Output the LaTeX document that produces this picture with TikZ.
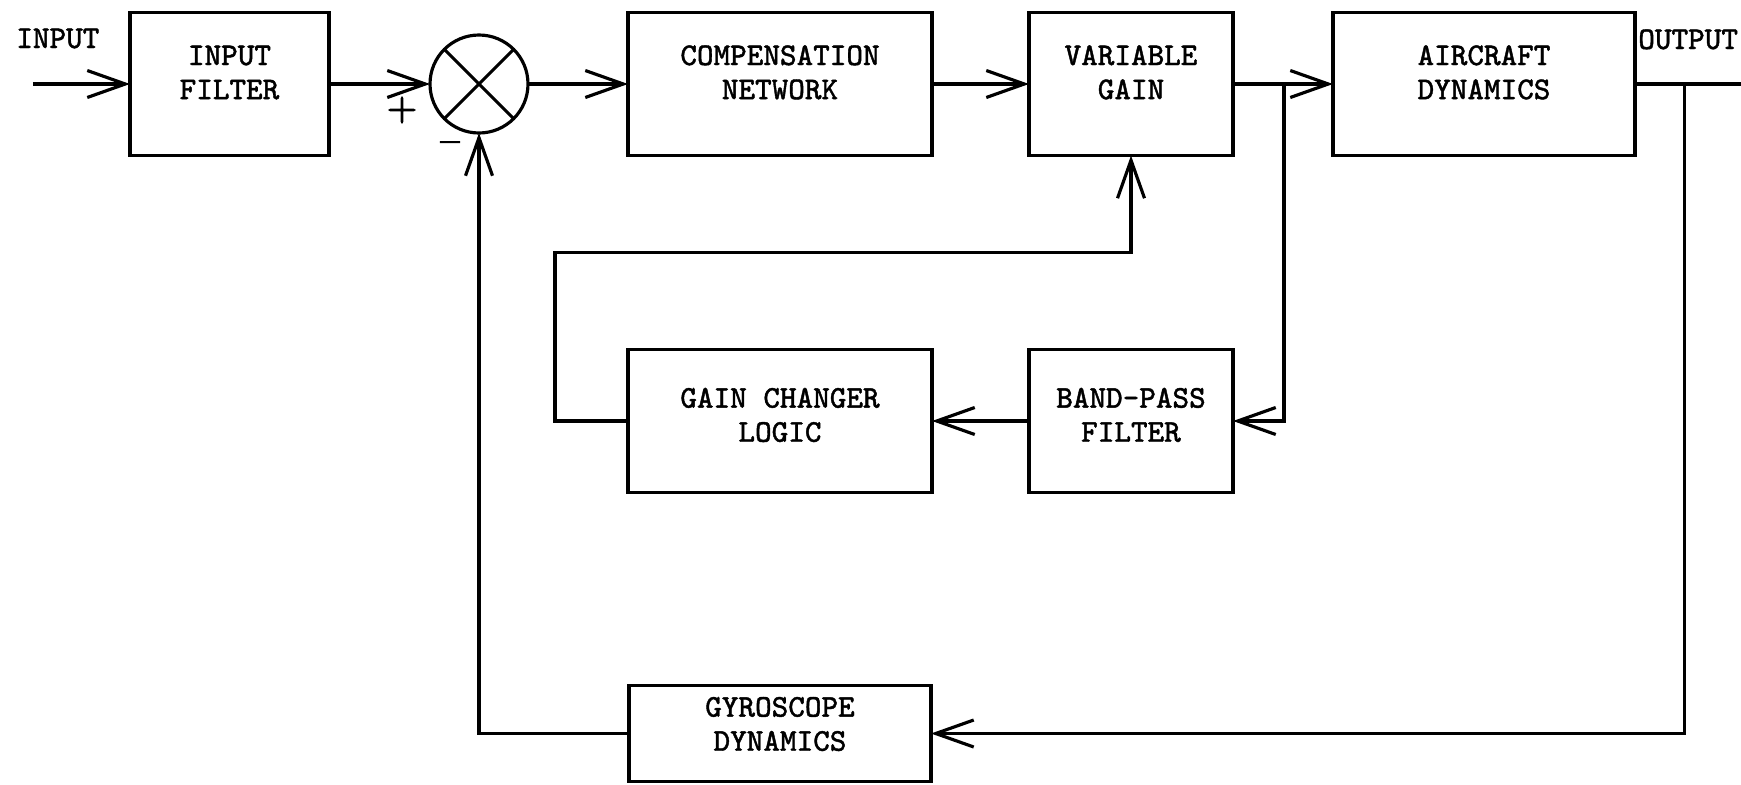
\documentclass[tikz,border=0pt]{standalone}
\usepackage{fontspec}
\setmonofont{Latin Modern Mono}[FakeBold=1.3]
\newfontfamily\signfont{Latin Modern Roman}[FakeBold=3]
\usetikzlibrary{arrows.meta, positioning, calc}

\tikzset{
  block/.style={rectangle, draw, line width=1.1pt, outer sep=0pt, align=center,
    minimum height=1.43cm, text height=8.6pt, text depth=0pt},
  lbl/.style={inner sep=0.5pt},
  sign/.style={inner sep=0pt, font=\fontsize{11}{11}\selectfont\signfont},
}

\begin{document}
\begin{tikzpicture}[>={Straight Barb[length=0.38cm, width=0.27cm]}, line width=0.9pt,
    font=\fontsize{9}{9.7}\selectfont\ttfamily]
  \useasboundingbox (0,0) rectangle (17.41,7.84);

  % forward path
  \node[block, minimum width=1.99cm] (filt) at (2.295,7.00) {INPUT\\FILTER};
  \node[circle, draw, minimum size=0.98cm, inner sep=0pt, outer sep=0pt, right=1.01cm of filt] (sum) {};
  \draw (sum.north west) -- (sum.south east) (sum.north east) -- (sum.south west);
  \node[block, minimum width=3.04cm, right=1.00cm of sum] (comp) {COMPENSATION\\NETWORK};
  \node[block, minimum width=2.04cm, right=0.97cm of comp] (gain) {VARIABLE\\GAIN};
  \node[block, minimum width=3.02cm, right=1.00cm of gain] (plant) {AIRCRAFT\\DYNAMICS};

  % gain changer loop
  \node[block, minimum width=3.04cm, text height=11.8pt, below=1.94cm of comp] (logic) {GAIN CHANGER\\LOGIC};
  \node[block, minimum width=2.04cm, text height=11.8pt, below=1.94cm of gain] (bpf) {BAND-PASS\\FILTER};

  % gyro feedback
  \node[block, minimum width=3.02cm, minimum height=0.96cm, text height=9.8pt, below=1.93cm of logic] (gyro) {GYROSCOPE\\DYNAMICS};

  \node[sign] (plus) at ($(sum)+(-0.77,-0.26)$) {+};
  \node[sign] (minus) at ($(sum)+(-0.29,-0.63)$) {\textendash};

  \coordinate[left=0.97cm of filt] (inp);
  \coordinate[right=1.06cm of plant] (outp);
  \coordinate (br1) at ($(gain.east)!0.51!(plant.west)$);
  \coordinate (br2) at ($(plant.east)!0.47!(outp)$);
  \coordinate (mid) at ($(comp.south)!0.5!(logic.north)$);
  \coordinate[left=0.73cm of logic] (fbk);

  \draw[->] (inp) -- (filt.west);
  \draw[->] (filt.east) -- (sum.west);
  \draw[->] (sum.east) -- (comp.west);
  \draw[->] (comp.east) -- (gain.west);
  \draw[->] (gain.east) -- (plant.west);
  \draw (plant.east) -- (outp);
  \draw[->] (br1) |- (bpf.east);
  \draw[->] (bpf.west) -- (logic.east);
  \draw[->] (logic.west) -- (fbk) |- (mid) -| (gain.south);
  \draw[->] (br2) |- (gyro.east);
  \draw[->] (gyro.west) -| (sum.south);

  \node[lbl, anchor=base west] (inlbl) at (0.13,7.36) {INPUT};
  \node[lbl, anchor=base west] (outlbl) at ([yshift=0.35cm]plant.east) {OUTPUT};
\end{tikzpicture}
\end{document}
